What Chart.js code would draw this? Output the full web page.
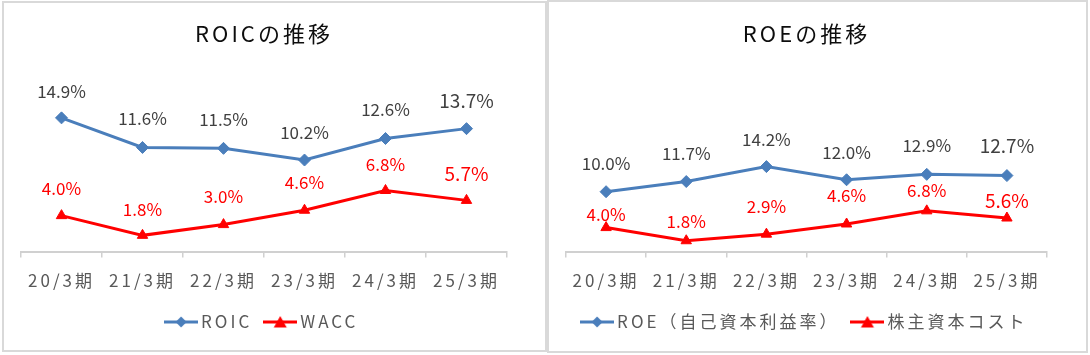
<!DOCTYPE html>
<html>
<head>
<meta charset="utf-8">
<script src="https://cdn.jsdelivr.net/npm/chart.js@4"></script>
<style>
  body { margin: 0; background: #fff; width: 1090px; height: 355px; position: relative; overflow: hidden; }
  .panel { position: absolute; border: 2px solid #d9d9d9; background: #fff; }
  #p1 { left: 2px; top: 1px; width: 541px; height: 347px; }
  #p2 { left: 547px; top: 0px; width: 537px; height: 349px; }
  canvas { display: block; }
</style>
</head>
<body>
<div class="panel" id="p1"><canvas id="roicChart" width="541" height="347"></canvas></div>
<div class="panel" id="p2"><canvas id="roeChart" width="537" height="349"></canvas></div>
<script>
// ---------------- DATA ----------------
const periods = ["20/3期", "21/3期", "22/3期", "23/3期", "24/3期", "25/3期"];
const roic = [14.9, 11.6, 11.5, 10.2, 12.6, 13.7];
const wacc = [4.0, 1.8, 3.0, 4.6, 6.8, 5.7];
const roe = [10.0, 11.7, 14.2, 12.0, 12.9, 12.7];
const equityCost = [4.0, 1.8, 2.9, 4.6, 6.8, 5.6];

const BLUE = "#4A7EBB";
const RED = "#FF0000";

Chart.defaults.font.family = '"Noto Sans CJK JP", "Noto Sans", sans-serif';

// ---------------- LEGEND ICONS (line + marker) ----------------
function legendIcon(color, shape) {
    const c = document.createElement("canvas");
    c.width = 34;
    c.height = 14;
    const g = c.getContext("2d");
    g.strokeStyle = color;
    g.lineWidth = 3;
    g.beginPath();
    g.moveTo(0, 7);
    g.lineTo(34, 7);
    g.stroke();
    g.fillStyle = color;
    g.beginPath();
    if (shape === "diamond") {
        g.moveTo(17, 1.5); g.lineTo(22.5, 7); g.lineTo(17, 12.5); g.lineTo(11.5, 7);
    } else {
        g.moveTo(17, 1); g.lineTo(23.5, 12.5); g.lineTo(10.5, 12.5);
    }
    g.closePath();
    g.fill();
    return c;
}

// ---------------- PLUGINS ----------------
// wider text spacing like the original Excel rendering
const spacing = {
    id: "spacing",
    beforeLayout(chart) { chart.ctx.letterSpacing = "3px"; },
    beforeDraw(chart) { chart.ctx.letterSpacing = "3px"; }
};

// value labels above each point
const pointLabels = {
    id: "pointLabels",
    afterDatasetsDraw(chart) {
        const ctx = chart.ctx;
        chart.data.datasets.forEach((ds, i) => {
            const meta = chart.getDatasetMeta(i);
            meta.data.forEach((pt, j) => {
                const last = j === meta.data.length - 1;
                const off = ds.labelOffsets ? ds.labelOffsets[j] : 28;
                ctx.save();
                ctx.letterSpacing = "0px";
                ctx.font = (last ? 19 : 17) + 'px "Noto Sans CJK JP", "Noto Sans", sans-serif';
                ctx.fillStyle = ds.labelColor;
                ctx.textAlign = "center";
                ctx.textBaseline = "middle";
                ctx.fillText(ds.data[j].toFixed(1) + "%", pt.x, pt.y - off);
                ctx.restore();
            });
        });
    }
};

// ---------------- COMMON ----------------
function lineSet(label, data, color, style, labelColor, offsets) {
    return {
        label: label,
        data: data,
        borderColor: color,
        backgroundColor: color,
        borderWidth: 3,
        pointStyle: style,
        pointRadius: 6,
        pointHoverRadius: 6,
        pointBorderWidth: 1,
        pointBackgroundColor: color,
        pointBorderColor: color,
        tension: 0,
        clip: false,
        labelColor: labelColor,
        labelOffsets: offsets
    };
}

function makeChart(id, title, datasets, yMax, pad) {
    const icons = [legendIcon(BLUE, "diamond"), legendIcon(RED, "triangle")];
    return new Chart(document.getElementById(id), {
        type: "line",
        data: { labels: periods, datasets: datasets },
        plugins: [spacing, pointLabels],
        options: {
            responsive: false,
            animation: false,
            layout: { padding: { left: 17, right: pad.right, top: 0, bottom: pad.bottom } },
            plugins: {
                title: {
                    display: true,
                    text: title,
                    color: "#0d0d0d",
                    font: { size: 22, weight: "normal", lineHeight: 1.2 },
                    padding: { top: pad.titleTop, bottom: 61.6 }
                },
                legend: {
                    position: "bottom",
                    labels: {
                        usePointStyle: true,
                        pointStyleWidth: 23,
                        padding: 10,
                        color: "#595959",
                        font: { size: 17 },
                        generateLabels: (chart) =>
                            Chart.defaults.plugins.legend.labels.generateLabels(chart)
                                .map((item, i) => ({
                                    ...item,
                                    text: i === 0 ? item.text + "\u2009" : item.text,
                                    pointStyle: icons[i]
                                }))
                    }
                },
                tooltip: { enabled: false }
            },
            scales: {
                x: {
                    offset: true,
                    grid: {
                        offset: true,
                        drawOnChartArea: false,
                        drawTicks: true,
                        tickLength: 6,
                        color: "#d0d0d0",
                        lineWidth: 1.5
                    },
                    border: { display: true, color: "#d0d0d0", width: 2 },
                    ticks: {
                        color: "#595959",
                        font: { size: 17, lineHeight: 1.2 },
                        padding: 12.8,
                        maxRotation: 0,
                        autoSkip: false
                    }
                },
                y: {
                    display: false,
                    min: 0,
                    max: yMax
                }
            }
        }
    });
}

// ---------------- ROIC CHART ----------------
makeChart("roicChart", "ROICの推移", [
    lineSet("ROIC", roic, BLUE, "rectRot", "#404040", [26, 29, 29, 27.5, 28.5, 28]),
    lineSet("WACC", wacc, RED, "triangle", RED, [27, 26, 28.5, 27.5, 25.5, 27])
], 16, { right: 38, bottom: 9.5, titleTop: 17 });

// ---------------- ROE CHART ----------------
makeChart("roeChart", "ROEの推移", [
    lineSet("ROE（自己資本利益率）", roe, BLUE, "rectRot", "#404040", [28, 27.5, 27.5, 27.5, 28.5, 30]),
    lineSet("株主資本コスト", equityCost, RED, "triangle", RED, [13, 19, 28, 28, 20, 17])
], 24, { right: 39, bottom: 10.5, titleTop: 18 });
</script>
</body>
</html>
